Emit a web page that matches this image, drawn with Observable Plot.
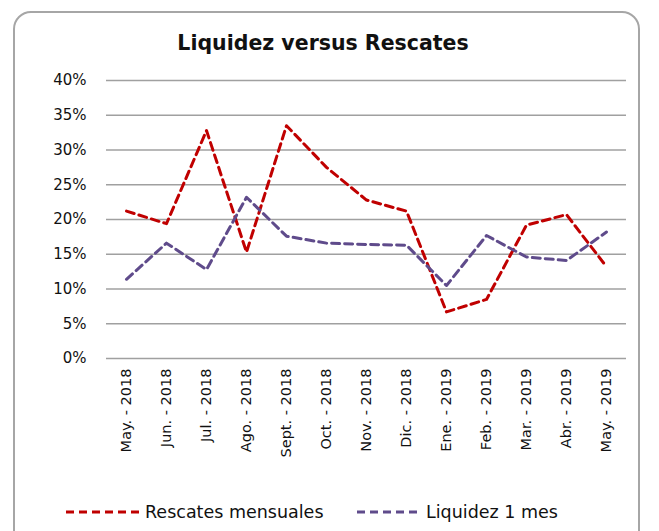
<!DOCTYPE html>
<html>
<head>
<meta charset="utf-8">
<script src="https://cdn.jsdelivr.net/npm/d3@7"></script>
<script src="https://cdn.jsdelivr.net/npm/@observablehq/plot@0.6"></script>
<style>
  html, body { margin: 0; padding: 0; background: #fff; }
  body { width: 659px; height: 531px; position: relative; overflow: hidden; font-family: "DejaVu Sans", sans-serif; }
  #frame { position: absolute; left: 13px; top: 11px; width: 627px; height: 540px; border: 2px solid #a6a6a6; border-radius: 18px; box-sizing: border-box; }
  #title { position: absolute; left: 0; width: 646px; top: 31px; text-align: center; font-weight: bold; font-size: 20.5px; color: #111; }
  #chart { position: absolute; left: 0; top: 0; }
  #legend { position: absolute; top: 500px; left: 0; width: 659px; height: 24px; font-size: 17.5px; color: #111; }
  .item { position: absolute; top: 0; display: flex; align-items: center; height: 24px; }
  .item svg { margin-right: 5px; }
</style>
</head>
<body>
<div id="frame"></div>
<div id="chart"></div>
<div id="title">Liquidez versus Rescates</div>
<div id="legend"></div>
<script>
const months = ["May. - 2018","Jun. - 2018","Jul. - 2018","Ago. - 2018","Sept. - 2018","Oct. - 2018","Nov. - 2018","Dic. - 2018","Ene. - 2019","Feb. - 2019","Mar. - 2019","Abr. - 2019","May. - 2019"];
const rescates = [0.212,0.194,0.328,0.153,0.335,0.275,0.228,0.212,0.067,0.085,0.192,0.207,0.132];
const liquidez = [0.114,0.166,0.128,0.232,0.176,0.166,0.164,0.163,0.105,0.177,0.146,0.141,0.182];
const yTicks = [0,0.05,0.10,0.15,0.20,0.25,0.30,0.35,0.40];
const seriesNames = ["Rescates mensuales","Liquidez 1 mes"];
const seriesColors = ["#c00000","#5f4b8b"];

const data = [];
months.forEach((m,i) => {
  data.push({month: m, value: rescates[i], serie: seriesNames[0]});
  data.push({month: m, value: liquidez[i], serie: seriesNames[1]});
});

const plot = Plot.plot({
  width: 659,
  height: 470,
  marginLeft: 106,
  marginRight: 33,
  marginTop: 80,
  marginBottom: 112,
  style: {fontFamily: "DejaVu Sans, sans-serif", fontSize: "14px", color: "#111", background: "transparent"},
  x: {type: "point", domain: months, padding: 0.5, label: null},
  y: {domain: [0,0.4], label: null},
  color: {domain: seriesNames, range: seriesColors},
  marks: [
    Plot.ruleY(yTicks, {stroke: "#a0a0a0", strokeWidth: 1.5, strokeOpacity: 1}),
    Plot.axisY({ticks: yTicks, tickFormat: d => Math.round(d*100) + "%", tickSize: 0, tickPadding: 20, fontSize: 15, label: null}),
    Plot.axisX({tickSize: 0, tickRotate: -90, tickPadding: 10, fontSize: 14.5, label: null}),
    Plot.line(data, {x: "month", y: "value", z: "serie", stroke: "serie", strokeWidth: 3, strokeDasharray: "8,5", curve: "linear"})
  ]
});
document.getElementById("chart").appendChild(plot);

const legend = document.getElementById("legend");
const positions = [{left: 66, w: 74}, {left: 357, w: 64}];
seriesNames.forEach((name,i) => {
  const div = document.createElement("div");
  div.className = "item";
  div.style.left = positions[i].left + "px";
  div.innerHTML = `<svg width="${positions[i].w}" height="6"><line x1="0" y1="3" x2="${positions[i].w}" y2="3" stroke="${seriesColors[i]}" stroke-width="3" stroke-dasharray="8,5"/></svg><span>${name}</span>`;
  legend.appendChild(div);
});
</script>
</body>
</html>
